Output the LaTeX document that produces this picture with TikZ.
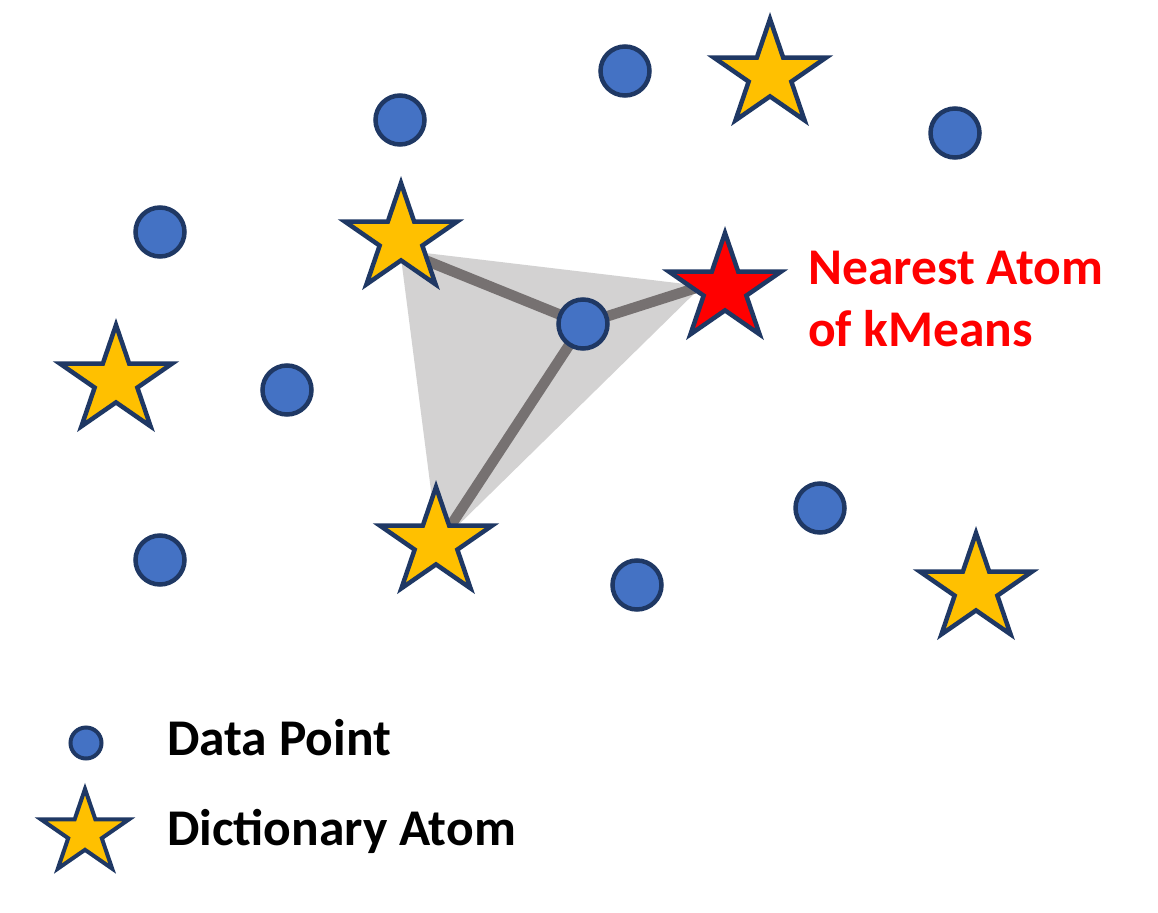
\documentclass[tikz,border=0pt]{standalone}
\usepackage{fontspec}
\setmainfont{Carlito}
\usetikzlibrary{shapes.geometric}
\pgfdeclarelayer{background}
\pgfsetlayers{background,main}
\definecolor{navy}{HTML}{1F3864}
\definecolor{dotblue}{HTML}{4472C4}
\definecolor{staryellow}{HTML}{FFC000}
\definecolor{tgrey}{HTML}{D3D2D2}
\definecolor{lgrey}{HTML}{767171}
\tikzset{
  dot/.style={circle, draw=navy, fill=dotblue, line width=4.5pt, minimum size=49pt, inner sep=0pt},
  smalldot/.style={circle, draw=navy, fill=dotblue, line width=4pt, minimum size=31pt, inner sep=0pt},
  atom/.style={star, star points=5, star point ratio=2.618, draw=navy, fill=staryellow,
     line width=4.5pt, minimum size=112pt, inner sep=0pt, xscale=1.05, transform shape},
  nearest/.style={atom, fill=red},
  smallatom/.style={atom, minimum size=88pt, line width=4pt},
  link/.style={draw=lgrey, line width=10.5pt},
  lbl/.style={font=\fontsize{51.5}{60}\selectfont\bfseries, anchor=base west, inner sep=0pt}
}
\begin{document}
\begin{tikzpicture}[x=1pt, y=-1pt]
\useasboundingbox (0,0) rectangle (1158,912);
% data points
\node[dot] (p1) at (625,71) {};
\node[dot] (p2) at (400,120) {};
\node[dot] (p3) at (955,133) {};
\node[dot] (p4) at (160,232) {};
\node[dot] (pc) at (583,324) {};
\node[dot] (p6) at (287,390) {};
\node[dot] (p7) at (160,560) {};
\node[dot] (p8) at (820,508) {};
\node[dot] (p9) at (637,585) {};
% atoms
\node[atom] (a1) at (770,75) {};
\node[atom] (a2) at (401,239) {};
\node[atom] (a3) at (116,381) {};
\node[atom] (a4) at (436,543) {};
\node[atom] (a5) at (976,589) {};
\node[nearest] (an) at (725,289) {};
% triangle vertices
\coordinate (tv1) at (400,250);
\coordinate (tv2) at (702,286);
\coordinate (tv3) at (438,545);
\begin{pgfonlayer}{background}
\fill[tgrey] (tv1) -- (tv2) -- (tv3) -- cycle;
\draw[link] (pc.center) -- (tv1);
\draw[link] (pc.center) -- (tv2);
\draw[link] (pc.center) -- (tv3);
\end{pgfonlayer}
% label
\node[lbl, text=red] (nlbl1) at (808,284) {Nearest Atom};
\node[lbl, text=red] (nlbl2) at (808,346) {of kMeans};
% legend
\node[smalldot] (ld) at (86,743) {};
\node[smallatom] (la) at (85,833) {};
\node[lbl] (ldt) at (167,755) {Data Point};
\node[lbl] (lat) at (167,845) {Dictionary Atom};
\end{tikzpicture}
\end{document}
